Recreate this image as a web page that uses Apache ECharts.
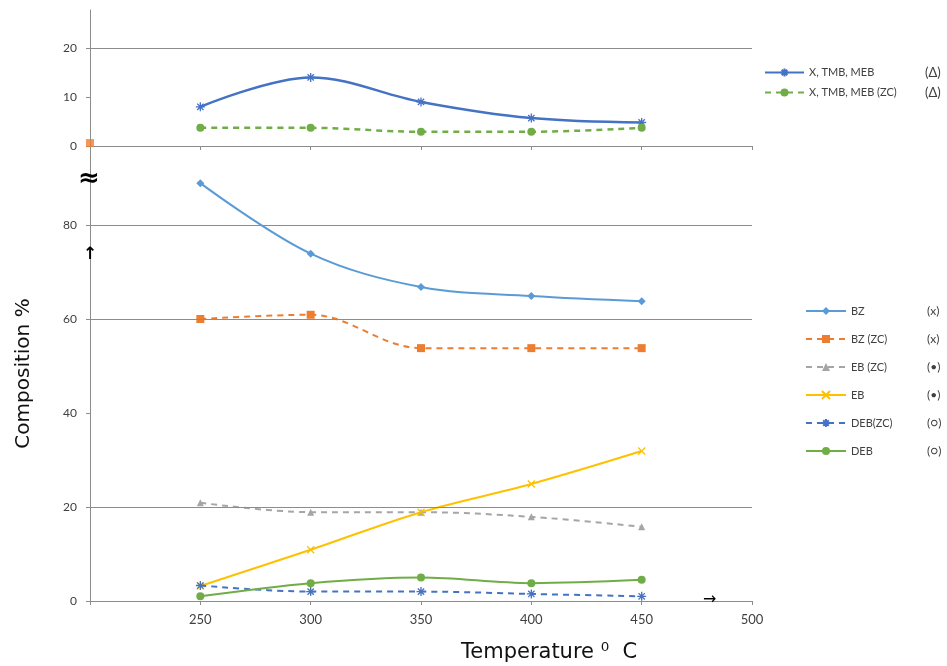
<!DOCTYPE html>
<html>
<head>
<meta charset="utf-8">
<script src="https://cdn.jsdelivr.net/npm/echarts@6/dist/echarts.min.js"></script>
<style>html,body{margin:0;padding:0;background:#fff}#c{width:947px;height:666px}</style>
</head>
<body>
<div id="c"></div>
<script>
// ---- data ----
var temps = [250, 300, 350, 400, 450];
var xTickLabels = [250, 300, 350, 400, 450, 500];
var topTickLabels = [0, 10, 20];
var bottomTickLabels = [0, 20, 40, 60, 80];
var topGridValues = [20];
var bottomGridValues = [20, 60, 80];

var xTmbMeb = [8.0, 14.0, 9.0, 5.7, 4.8];
var xTmbMebZC = [3.7, 3.7, 2.9, 2.9, 3.7];
var bz = [88.9, 73.9, 66.8, 64.9, 63.8];
var bzZC = [60.0, 60.9, 53.8, 53.8, 53.8];
var ebZC = [20.9, 18.9, 18.9, 17.9, 15.8];
var eb = [3.2, 10.9, 18.9, 24.9, 31.9];
var debZC = [3.3, 2.0, 2.0, 1.5, 1.0];
var deb = [1.0, 3.8, 5.0, 3.8, 4.5];
var strayPoint = [[200, 0.6]];

var topNames = ['X, TMB, MEB', 'X, TMB, MEB (ZC)'];
var topNotes = ['(Δ)', '(Δ)'];
var bottomNames = ['BZ', 'BZ (ZC)', 'EB (ZC)', 'EB', 'DEB(ZC)', 'DEB'];
var bottomNotes = ['(x)', '(x)', '(•)', '(•)', '(○)', '(○)'];

// ---- chart ----
function pairs(vals) { return temps.map(function (t, i) { return [t, vals[i]]; }); }
var ASTER = 'path://M0,5L10,5M5,0L5,10M1.5,1.5L8.5,8.5M8.5,1.5L1.5,8.5';
var CROSS = 'path://M0,0L10,10M10,0L0,10';
var FONT = 'Lato';
var axisGrey = '#8c8c8c';

function lineSeries(name, vals, color, dashed, symbol, size, xi, width, stroke) {
  return {
    type: 'line', name: name, xAxisIndex: xi, yAxisIndex: xi, data: pairs(vals),
    smooth: 0.35, symbol: symbol, symbolSize: size, showSymbol: true,
    lineStyle: { color: color, width: width, type: dashed ? [6, 5] : 'solid' },
    itemStyle: stroke ? { color: 'rgba(0,0,0,0)', borderColor: color, borderWidth: 1.3 } : { color: color },
    z: 3
  };
}
function gridMarks(values) {
  return {
    type: 'line', data: [], xAxisIndex: 0, yAxisIndex: 0, silent: true,
    markLine: {
      silent: true, symbol: 'none', label: { show: false },
      lineStyle: { color: axisGrey, width: 1, type: 'solid' },
      data: values.map(function (v) { return { yAxis: v }; })
    }
  };
}
var topGridSeries = gridMarks(topGridValues);
var bottomGridSeries = gridMarks(bottomGridValues);
bottomGridSeries.xAxisIndex = 1; bottomGridSeries.yAxisIndex = 1;

function legendFmt(names, notes) {
  return function (n) { var i = names.indexOf(n); return '{a|' + n + '}{b|' + notes[i] + '}'; };
}

var option = {
  animation: false,
  backgroundColor: '#fff',
  textStyle: { fontFamily: FONT },
  grid: [
    { left: 90, top: 10, width: 662, height: 136 },
    { left: 90, top: 146, width: 662, height: 455 }
  ],
  xAxis: [
    { gridIndex: 0, type: 'value', min: 200, max: 500, interval: 50,
      axisLine: { lineStyle: { color: axisGrey } },
      axisTick: { show: true, length: 4, lineStyle: { color: axisGrey } },
      axisLabel: { show: false }, splitLine: { show: false } },
    { gridIndex: 1, type: 'value', min: 200, max: 500, interval: 50,
      axisLine: { lineStyle: { color: axisGrey } },
      axisTick: { show: true, length: 4, lineStyle: { color: axisGrey } },
      axisLabel: { color: '#404040', fontSize: 13, margin: 12, customValues: xTickLabels },
      splitLine: { show: false } }
  ],
  yAxis: [
    { gridIndex: 0, type: 'value', min: 0, max: 136 / 4.9,
      axisLine: { show: true, lineStyle: { color: axisGrey } },
      axisTick: { show: true, length: 4, lineStyle: { color: axisGrey }, customValues: topTickLabels },
      axisLabel: { color: '#404040', fontSize: 12, margin: 13, customValues: topTickLabels },
      splitLine: { show: false } },
    { gridIndex: 1, type: 'value', min: 0, max: 455 / 4.7,
      name: 'Composition %', nameLocation: 'middle', nameGap: 56, nameRotate: 90,
      nameTextStyle: { color: '#111', fontSize: 20, fontFamily: 'DejaVu Sans' },
      axisLine: { show: true, lineStyle: { color: axisGrey } },
      axisTick: { show: true, length: 4, lineStyle: { color: axisGrey }, customValues: bottomTickLabels },
      axisLabel: { color: '#404040', fontSize: 12, margin: 13, customValues: bottomTickLabels },
      splitLine: { show: false } }
  ],
  legend: [
    { data: topNames, orient: 'vertical', left: 764, top: 66, padding: 0, itemWidth: 39, itemHeight: 10, itemGap: 7,
      textStyle: { color: '#404040', fontSize: 11,
        rich: { a: { width: 116, fontSize: 11, color: '#404040' }, b: { fontSize: 13, color: '#404040' } } },
      formatter: legendFmt(topNames, topNotes) },
    { data: bottomNames, orient: 'vertical', left: 805, top: 305, padding: 0, itemWidth: 40, itemHeight: 10, itemGap: 16,
      textStyle: { color: '#404040', fontSize: 11,
        rich: { a: { width: 76, fontSize: 11, color: '#404040' }, b: { fontSize: 12, color: '#404040' } } },
      formatter: legendFmt(bottomNames, bottomNotes) }
  ],
  series: [
    topGridSeries, bottomGridSeries,
    lineSeries(topNames[0], xTmbMeb, '#4472C4', false, ASTER, 9, 0, 2.5, true),
    lineSeries(topNames[1], xTmbMebZC, '#70AD47', true, 'circle', 8, 0, 2.5, false),
    { type: 'scatter', name: 'stray', xAxisIndex: 0, yAxisIndex: 0, data: strayPoint,
      symbol: 'rect', symbolSize: 8, itemStyle: { color: '#ED7D31' }, z: 4 },
    lineSeries(bottomNames[0], bz, '#5B9BD5', false, 'diamond', 8, 1, 2, false),
    lineSeries(bottomNames[1], bzZC, '#ED7D31', true, 'rect', 8, 1, 2, false),
    lineSeries(bottomNames[2], ebZC, '#A5A5A5', true, 'triangle', 7, 1, 2, false),
    lineSeries(bottomNames[3], eb, '#FFC000', false, CROSS, 7, 1, 2, true),
    lineSeries(bottomNames[4], debZC, '#4472C4', true, ASTER, 9, 1, 2, true),
    lineSeries(bottomNames[5], deb, '#70AD47', false, 'circle', 8, 1, 2, false)
  ],
  graphic: [
    { type: 'text', left: 461, top: 642, style: { text: 'Temperature \u2070  C', font: '21px "DejaVu Sans"', fill: '#111' } },
    { type: 'text', x: 78, y: 166, style: { text: '\u2248', font: 'bold 26px "DejaVu Sans"', fill: '#000' }, z: 10 },
    { type: 'text', x: 83, y: 246, style: { text: '\u2191', font: 'bold 17px "DejaVu Sans"', fill: '#000' }, z: 10 },
    { type: 'text', x: 703, y: 592, style: { text: '\u2192', font: '16px "DejaVu Sans"', fill: '#000' }, z: 10 }
  ]
};
var chart = echarts.init(document.getElementById('c'), null, { renderer: 'canvas' });
chart.setOption(option);
</script>
</body>
</html>
